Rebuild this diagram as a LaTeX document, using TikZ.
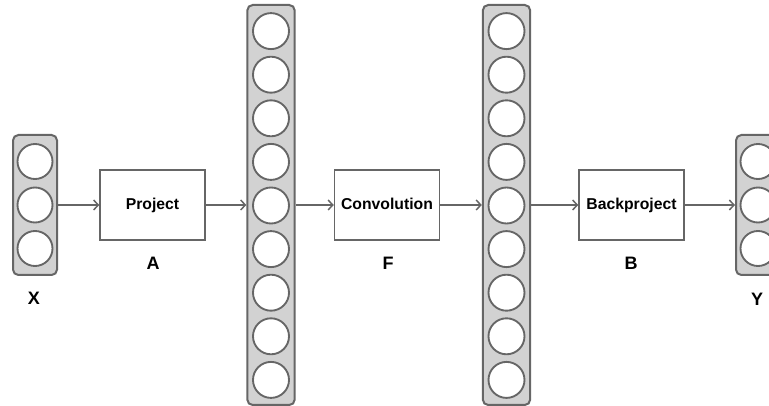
\documentclass[tikz,border=0pt]{standalone}
\usepackage{fontspec}
\setmainfont{Liberation Sans}
\usetikzlibrary{arrows.meta}

\definecolor{edgegray}{HTML}{666666}
\definecolor{layergray}{HTML}{D2D2D2}

\tikzset{
	layer/.style={draw=edgegray, fill=layergray, line width=1.5pt, rounded corners=4pt, inner sep=0pt},
	unit/.style={circle, draw=edgegray, fill=white, line width=1.4pt, inner sep=0pt},
	opbox/.style={draw=edgegray, fill=white, line width=1.1pt, minimum width=78.75pt, minimum height=52.5pt,
		text height=1.6ex, text depth=0.4ex, font=\bfseries\fontsize{11.8}{13}\selectfont},
	varlabel/.style={font=\bfseries\fontsize{13.5}{15}\selectfont},
	flow/.style={draw=edgegray, line width=1.1pt, -{Straight Barb[length=3.5pt, width=7.5pt]}}
}

\begin{document}
\begin{tikzpicture}[x=0.75pt, y=-0.75pt]
	\useasboundingbox (0,0) rectangle (769,406);
	\clip (0,0) rectangle (769,406);

	% vectors and layers
	\node[layer, minimum width=33pt, minimum height=105pt] (inX) at (35,205) {};
	\node[layer, minimum width=35.5pt, minimum height=300pt] (mid1) at (271,205) {};
	\node[layer, minimum width=35.5pt, minimum height=300pt] (mid2) at (506.5,205) {};
	\node[layer, minimum width=33pt, minimum height=105pt] (outY) at (758,205) {};

	\foreach \k in {-1,0,1} {
		\node[unit, minimum size=26.25pt] (x\k) at (35,205+43.5*\k) {};
		\node[unit, minimum size=26.25pt] (y\k) at (758,205+43.5*\k) {};
	}
	\foreach \k in {-4,...,4} {
		\node[unit, minimum size=27pt] (p\k) at (271,205.5+43.6*\k) {};
		\node[unit, minimum size=27pt] (q\k) at (506.5,205.5+43.6*\k) {};
	}

	% operators
	\node[opbox] (proj) at (152.5,205) {Project};
	\node[opbox] (conv) at (387,205) {Convolution};
	\node[opbox] (back) at (631.5,205) {Backproject};

	\node[varlabel] (lA) at (153,263) {A};
	\node[varlabel] (lF) at (388,263) {F};
	\node[varlabel] (lB) at (631,263) {B};
	\node[varlabel] (lX) at (34,298) {X};
	\node[varlabel] (lY) at (757,299) {Y};

	% data flow
	\draw[flow] (inX.east) -- (proj.west);
	\draw[flow] (proj.east) -- (mid1.west);
	\draw[flow] (mid1.east) -- (conv.west);
	\draw[flow] (conv.east) -- (mid2.west);
	\draw[flow] (mid2.east) -- (back.west);
	\draw[flow] (back.east) -- (outY.west);
\end{tikzpicture}
\end{document}
